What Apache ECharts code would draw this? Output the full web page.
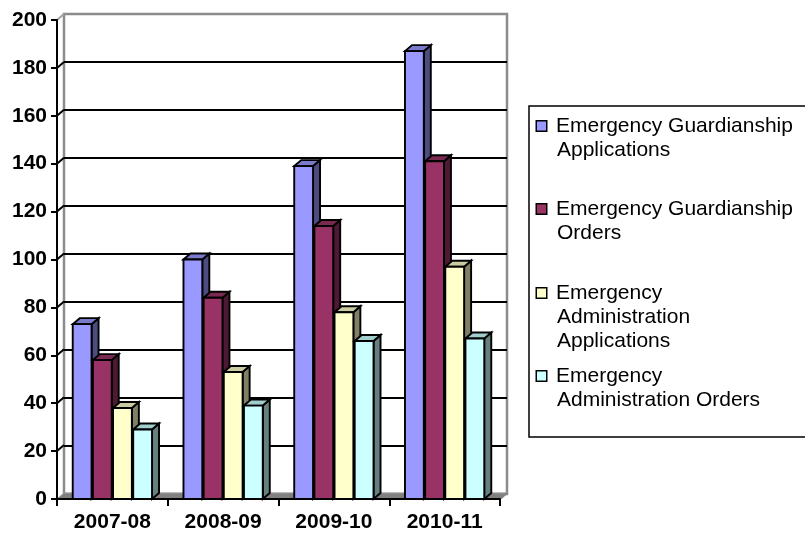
<!DOCTYPE html>
<html>
<head>
<meta charset="utf-8">
<script src="https://cdn.jsdelivr.net/npm/echarts@6/dist/echarts.min.js"></script>
<style>
html,body{margin:0;padding:0;background:#fff;}
#chart{width:805px;height:533px;}
</style>
</head>
<body>
<div id="chart"></div>
<script>
const categories = ['2007-08', '2008-09', '2009-10', '2010-11'];
const seriesNames = [
  'Emergency Guardianship Applications',
  'Emergency Guardianship Orders',
  'Emergency Administration Applications',
  'Emergency Administration Orders'
];
const legendLines = [
  ['Emergency Guardianship', 'Applications'],
  ['Emergency Guardianship', 'Orders'],
  ['Emergency', 'Administration', 'Applications'],
  ['Emergency', 'Administration Orders']
];
const guardianshipApplications = [73, 100, 139, 187];
const guardianshipOrders = [58, 84, 114, 141];
const administrationApplications = [38, 53, 78, 97];
const administrationOrders = [29, 39, 66, 67];
const yMin = 0, yMax = 200, yStep = 20;

const seriesValues = [guardianshipApplications, guardianshipOrders, administrationApplications, administrationOrders];
const frontColors = ['#9999FF', '#993366', '#FFFFCC', '#CCFFFF'];
const topColors = ['#7A7ACC', '#7A2952', '#CCCCA3', '#A3CCCC'];
const sideColors = ['#4C4C80', '#4D1A33', '#808066', '#668080'];
const DX = 7, DY = -6;
const FONT = '"Liberation Sans", Arial, sans-serif';

function barRender(si) {
  return function (params, api) {
    const cat = api.value(0), val = api.value(1);
    const base = api.coord([cat, 0]);
    const top = api.coord([cat, val]);
    const band = api.size([1, 0])[0];
    const pitch = band * 0.182;
    const bw = band * 0.17;
    const cx = base[0] + (si - 1.5) * pitch;
    const x0 = cx - bw / 2, x1 = cx + bw / 2;
    const yt = top[1], yb = base[1];
    const stroke = {stroke: '#000', lineWidth: 1.9, lineJoin: 'miter'};
    return {
      type: 'group',
      children: [
        {type: 'polygon', shape: {points: [[x1, yt], [x1 + DX, yt + DY], [x1 + DX, yb + DY], [x1, yb]]},
          style: Object.assign({fill: sideColors[si]}, stroke)},
        {type: 'polygon', shape: {points: [[x0, yt], [x0 + DX, yt + DY], [x1 + DX, yt + DY], [x1, yt]]},
          style: Object.assign({fill: topColors[si]}, stroke)},
        {type: 'rect', shape: {x: x0, y: yt, width: bw, height: yb - yt},
          style: Object.assign({fill: frontColors[si]}, stroke)}
      ]
    };
  };
}

function frameRender(params, api) {
  const cs = params.coordSys;
  const x = cs.x, y = cs.y, w = cs.width, h = cs.height;
  const children = [];
  children.push({type: 'polygon', shape: {points: [[x, y + h], [x + w, y + h], [x + w + DX, y + h + DY], [x + DX, y + h + DY]]},
    style: {fill: '#808080', stroke: '#999', lineWidth: 1}});
  for (let v = yMin + yStep; v < yMax; v += yStep) {
    const p = api.coord([0, v]);
    children.push({type: 'line', shape: {x1: x, y1: p[1], x2: x + DX, y2: p[1] + DY}, style: {stroke: '#000', lineWidth: 2}});
  }
  children.push({type: 'line', shape: {x1: x, y1: y, x2: x + DX, y2: y + DY}, style: {stroke: '#A0A0A0', lineWidth: 2}});
  children.push({type: 'line', shape: {x1: x + w, y1: y + h, x2: x + w + DX, y2: y + h + DY}, style: {stroke: '#808080', lineWidth: 2}});
  return {type: 'group', children: children};
}

const rich = {
  g: {width: 10, lineHeight: 24},
  s: {width: 20, lineHeight: 24}
};
frontColors.forEach((c, i) => {
  rich['m' + i] = {width: 9, height: 9, backgroundColor: c, borderColor: '#000', borderWidth: 1.5, lineHeight: 24};
});
function legendFormatter(name) {
  const i = seriesNames.indexOf(name);
  return legendLines[i].map((l, k) => (k === 0 ? '{m' + i + '|}{g|}' : '{s|}') + l).join('\n');
}
const legendTops = [114, 197, 281, 364];
const legends = seriesNames.map((n, i) => ({
  data: [n],
  left: 532,
  top: legendTops[i],
  orient: 'vertical',
  padding: 0,
  icon: 'none',
  itemWidth: 0,
  itemHeight: 10,
  selectedMode: false,
  formatter: legendFormatter,
  textStyle: {fontFamily: FONT, fontSize: 21, color: '#000', lineHeight: 24, rich: rich}
}));

const series = [{
  type: 'custom',
  name: 'frame',
  xAxisIndex: 0, yAxisIndex: 0,
  renderItem: frameRender,
  data: [[0, 0]],
  encode: {x: 0, y: 1},
  silent: true,
  z: 1
}];
seriesValues.forEach((vals, si) => {
  series.push({
    type: 'custom',
    name: seriesNames[si],
    xAxisIndex: 0, yAxisIndex: 0,
    color: frontColors[si],
    renderItem: barRender(si),
    data: vals.map((v, i) => [i, v]),
    encode: {x: 0, y: 1},
    z: 3 + si
  });
});

const chart = echarts.init(document.getElementById('chart'), null, {renderer: 'canvas'});
chart.setOption({
  animation: false,
  backgroundColor: '#fff',
  legend: legends,
  grid: [
    {left: 57, right: 305, top: 20, bottom: 33, containLabel: false},
    {left: 64, right: 298, top: 14, bottom: 39, containLabel: false, show: true,
      borderColor: '#8C8C8C', borderWidth: 2.5, backgroundColor: '#fff'}
  ],
  xAxis: [
    {type: 'category', gridIndex: 0, data: categories, z: 10,
      axisLine: {show: true, lineStyle: {color: '#000', width: 2}},
      axisTick: {show: true, length: 7, lineStyle: {color: '#000', width: 2}},
      axisLabel: {color: '#000', fontFamily: FONT, fontWeight: 'bold', fontSize: 21, margin: 13},
      splitLine: {show: false}},
    {type: 'category', gridIndex: 1, data: categories, show: false}
  ],
  yAxis: [
    {type: 'value', gridIndex: 0, min: yMin, max: yMax, interval: yStep, z: 10,
      axisLine: {show: true, lineStyle: {color: '#000', width: 2}},
      axisTick: {show: true, length: 6, lineStyle: {color: '#000', width: 2}},
      axisLabel: {color: '#000', fontFamily: FONT, fontWeight: 'bold', fontSize: 21, margin: 10},
      splitLine: {show: false}},
    {type: 'value', gridIndex: 1, min: yMin, max: yMax, interval: yStep,
      axisLine: {show: false}, axisTick: {show: false}, axisLabel: {show: false},
      splitLine: {show: true, showMinLine: false, showMaxLine: false, lineStyle: {color: '#000', width: 2}}}
  ],
  graphic: [{
    type: 'rect',
    shape: {x: 529, y: 106, width: 300, height: 331},
    style: {fill: 'none', stroke: '#000', lineWidth: 1.5},
    z: 0
  }],
  series: series
});
</script>
</body>
</html>
